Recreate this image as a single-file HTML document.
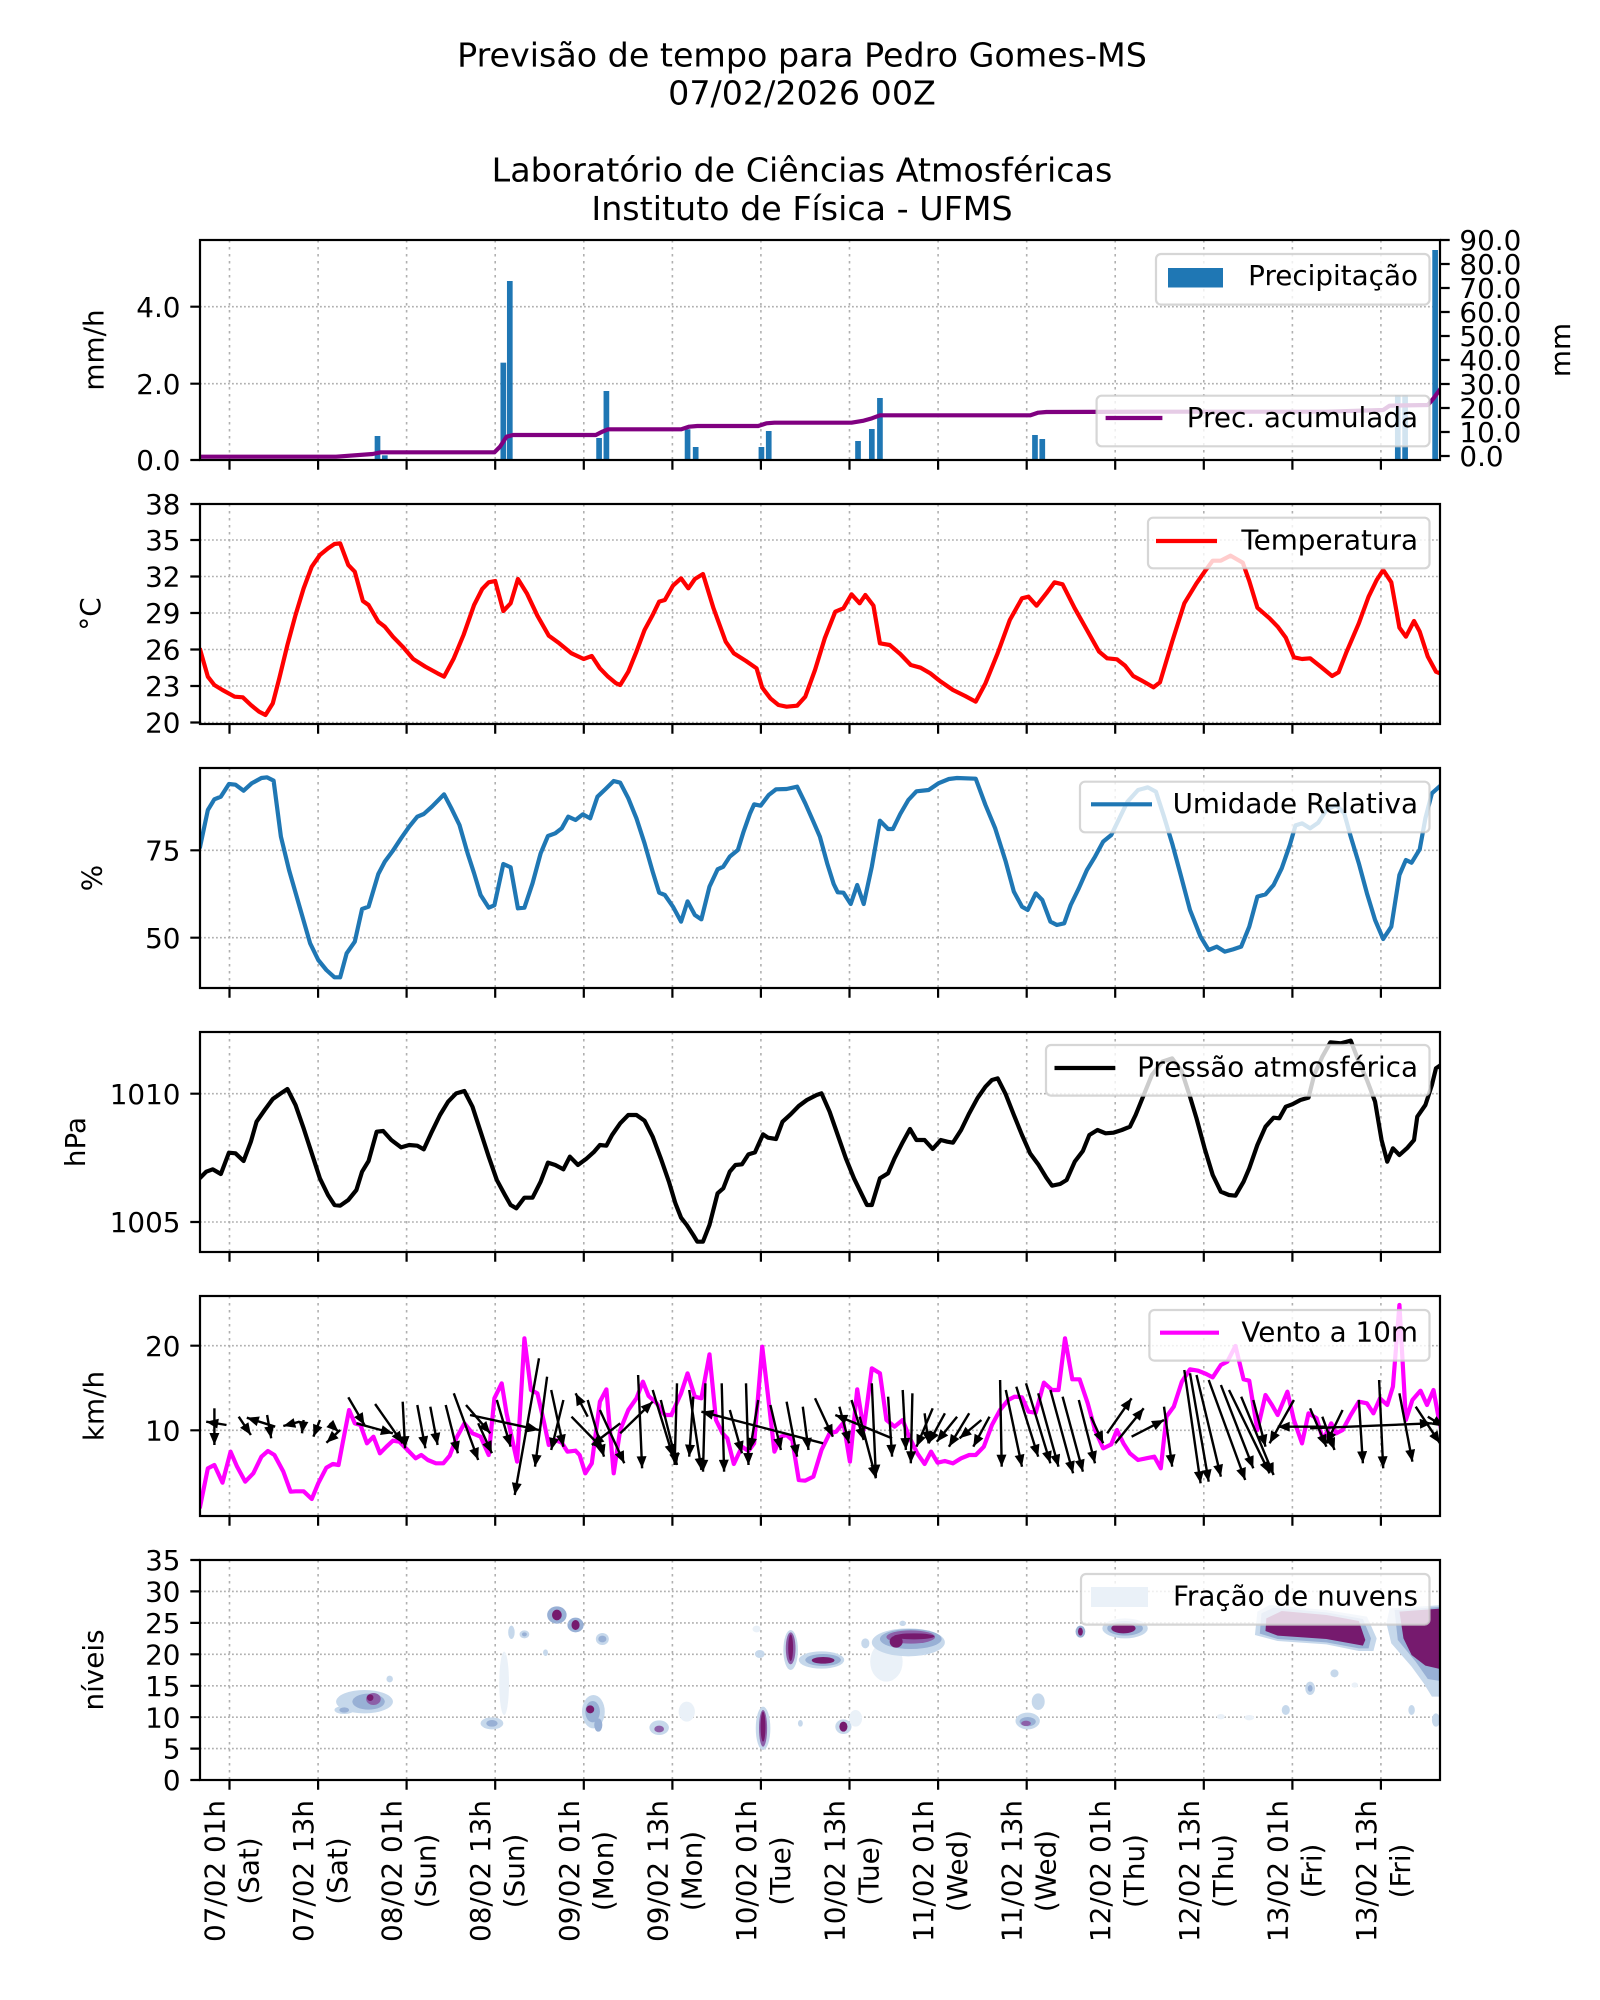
<!DOCTYPE html>
<html><head><meta charset="utf-8"><style>
html,body{margin:0;padding:0;background:#fff}
svg{display:block}
text{font-family:"DejaVu Sans","Liberation Sans",sans-serif;fill:#000}
.t{font-size:27.8px}
.ti{font-size:33.3px}
.gv{stroke:#b0b0b0;stroke-width:1.6;stroke-dasharray:2.5 4.5;fill:none}
.gh{stroke:#b0b0b0;stroke-width:1.6;stroke-dasharray:1.8 2.2;fill:none}
.sp{fill:none;stroke:#000;stroke-width:2.2}
.tk{stroke:#000;stroke-width:2.2;fill:none}
.ln{fill:none;stroke-width:4.2;stroke-linejoin:round;vector-effect:non-scaling-stroke}
.lg{fill:#fff;fill-opacity:0.8;stroke:#cccccc;stroke-opacity:0.8;stroke-width:2.2}
.q line{stroke:#000;stroke-width:2.4;marker-end:url(#ah)}
.c0{fill:#eaf1f8}.c1{fill:#c6d8eb}.c2{fill:#98b0d5}.c3{fill:#8c5fa8}.c4{fill:#761a6e}
</style></head><body>
<svg width="1600" height="2000" viewBox="0 0 1600 2000" xmlns="http://www.w3.org/2000/svg">
<defs>
<marker id="ah" markerUnits="userSpaceOnUse" markerWidth="13" markerHeight="10" refX="12" refY="5" orient="auto" viewBox="0 0 12 10"><path d="M0,0 L12,5 L0,10 z" fill="#000"/></marker>
<path id="vg" d="M229.5,0V220M318.1,0V220M406.6,0V220M495.2,0V220M583.8,0V220M672.4,0V220M760.9,0V220M849.5,0V220M938.1,0V220M1026.7,0V220M1115.2,0V220M1203.8,0V220M1292.4,0V220M1380.9,0V220"/>
<path id="xt" d="M229.5,0v9.7M318.1,0v9.7M406.6,0v9.7M495.2,0v9.7M583.8,0v9.7M672.4,0v9.7M760.9,0v9.7M849.5,0v9.7M938.1,0v9.7M1026.7,0v9.7M1115.2,0v9.7M1203.8,0v9.7M1292.4,0v9.7M1380.9,0v9.7"/>
<clipPath id="c1"><rect x="200" y="240" width="1240" height="220"/></clipPath>
<clipPath id="c2"><rect x="200" y="504" width="1240" height="220"/></clipPath>
<clipPath id="c3"><rect x="200" y="768" width="1240" height="220"/></clipPath>
<clipPath id="c4"><rect x="200" y="1032" width="1240" height="220"/></clipPath>
<clipPath id="c5"><rect x="200" y="1296" width="1240" height="220"/></clipPath>
<clipPath id="c6"><rect x="200" y="1560" width="1240" height="220"/></clipPath>
</defs>
<rect width="1600" height="2000" fill="#fff"/>

<!-- Titles -->
<text class="ti" x="802" y="66.7" text-anchor="middle">Previsão de tempo para Pedro Gomes-MS</text>
<text class="ti" x="802" y="104.3" text-anchor="middle">07/02/2026 00Z</text>
<text class="ti" x="802" y="181.7" text-anchor="middle">Laboratório de Ciências Atmosféricas</text>
<text class="ti" x="802" y="220" text-anchor="middle">Instituto de Física - UFMS</text>

<!-- ============ PANEL 1 ============ -->
<use href="#vg" y="240" class="gv"/>
<path class="gh" d="M200,383.7H1440M200,306.7H1440"/>
<g clip-path="url(#c1)">
<g transform="translate(190,230) scale(0.81169,0.33333)" fill="#1f77b4">
<rect x="227.5" y="618" width="7" height="72"/>
<rect x="236.5" y="676" width="7" height="14"/>
<rect x="382.5" y="398" width="7" height="292"/>
<rect x="390.5" y="153" width="7" height="537"/>
<rect x="500.5" y="624" width="7" height="66"/>
<rect x="509.5" y="483" width="7" height="207"/>
<rect x="609.5" y="598" width="7" height="92"/>
<rect x="619.5" y="651" width="7" height="39"/>
<rect x="700.5" y="651" width="7" height="39"/>
<rect x="709.5" y="603" width="7" height="87"/>
<rect x="819.5" y="633" width="7" height="57"/>
<rect x="836.5" y="597" width="7" height="93"/>
<rect x="846.5" y="504" width="7" height="186"/>
<rect x="1037.5" y="615" width="7" height="75"/>
<rect x="1046.5" y="627" width="7" height="63"/>
<rect x="1484.5" y="497" width="7" height="193"/>
<rect x="1493.5" y="497" width="7" height="193"/>
<rect x="1530.5" y="60" width="7" height="630"/>
<polyline class="ln" stroke="#800080" points="12,680 180,680 225,672 235,667 375,667 382,650 390,620 398,615 500,615 508,605 515,598 605,598 615,590 625,588 700,588 710,580 720,578 815,578 830,572 840,565 850,556 1035,556 1045,548 1055,546 1200,545 1400,545 1470,540 1478,527 1525,525 1532,505 1545,462"/>
</g></g>
<rect class="sp" x="200" y="240" width="1240" height="220"/>
<path class="tk" d="M190.3,460H200M190.3,383.7H200M190.3,306.7H200"/>
<use href="#xt" y="460" class="tk"/>
<text class="t" x="180.5" y="470" text-anchor="end">0.0</text>
<text class="t" x="180.5" y="393.8" text-anchor="end">2.0</text>
<text class="t" x="180.5" y="316.8" text-anchor="end">4.0</text>
<path class="tk" d="M1440,456h9.7M1440,432h9.7M1440,408h9.7M1440,384h9.7M1440,360h9.7M1440,336h9.7M1440,312h9.7M1440,288h9.7M1440,264h9.7M1440,240h9.7"/>
<text class="t" x="1459.4" y="466">0.0</text>
<text class="t" x="1459.4" y="442">10.0</text>
<text class="t" x="1459.4" y="418">20.0</text>
<text class="t" x="1459.4" y="394">30.0</text>
<text class="t" x="1459.4" y="370">40.0</text>
<text class="t" x="1459.4" y="346">50.0</text>
<text class="t" x="1459.4" y="322">60.0</text>
<text class="t" x="1459.4" y="298">70.0</text>
<text class="t" x="1459.4" y="274">80.0</text>
<text class="t" x="1459.4" y="250">90.0</text>
<text class="t" transform="translate(103.3,350) rotate(-90)" text-anchor="middle">mm/h</text>
<text class="t" transform="translate(1570,350) rotate(-90)" text-anchor="middle">mm</text>
<rect class="lg" x="1156" y="254" width="273.5" height="50.6" rx="5"/>
<rect x="1168" y="268" width="55" height="19.5" fill="#1f77b4"/>
<text class="t" x="1418" y="285" text-anchor="end">Precipitação</text>
<rect class="lg" x="1096.6" y="395.7" width="332.9" height="50.6" rx="5"/>
<line x1="1105.6" y1="418" x2="1162.4" y2="418" stroke="#800080" stroke-width="4.2"/>
<text class="t" x="1418" y="427" text-anchor="end">Prec. acumulada</text>

<!-- ============ PANEL 2 ============ -->
<use href="#vg" y="504" class="gv"/>
<path class="gh" d="M200,540H1440M200,576.5H1440M200,613H1440M200,649.5H1440M200,686H1440M200,722.5H1440"/>
<g clip-path="url(#c2)"><g transform="translate(190,495) scale(0.81169,0.33333)">
<polyline class="ln" stroke="#ff0000" points="12,460 22,545 30,570 40,585 55,605 65,607 75,630 85,650 93,660 102,625 110,550 120,450 130,360 140,280 150,215 160,180 170,160 178,147 185,145 195,210 203,230 213,318 220,330 232,380 240,395 250,425 262,455 275,492 290,515 305,535 313,545 325,490 337,420 350,330 360,282 368,262 376,258 386,348 395,325 404,252 415,295 428,362 442,422 455,445 470,475 485,492 495,483 505,520 515,545 525,565 530,570 540,530 550,470 560,405 570,360 578,320 585,315 595,272 605,250 614,280 622,252 632,237 645,340 660,440 670,475 685,498 698,520 705,578 715,610 725,630 735,635 748,632 758,605 770,525 782,430 795,350 805,340 815,298 825,325 832,300 842,332 850,445 862,450 875,477 888,510 900,518 912,535 925,560 940,585 955,603 968,620 980,565 995,475 1010,375 1025,310 1033,305 1043,332 1055,295 1065,262 1075,268 1090,340 1105,405 1120,470 1130,490 1142,493 1152,512 1162,543 1175,560 1187,577 1195,562 1210,440 1225,325 1240,265 1250,230 1260,197 1270,197 1282,182 1297,203 1305,258 1315,338 1330,370 1340,395 1350,428 1360,487 1370,492 1380,490 1393,515 1407,543 1415,532 1425,470 1440,385 1452,305 1462,255 1470,225 1480,262 1490,398 1498,425 1508,378 1515,410 1525,485 1535,530 1545,540"/>
</g></g>
<rect class="sp" x="200" y="504" width="1240" height="220"/>
<path class="tk" d="M190.3,504H200M190.3,540H200M190.3,576.5H200M190.3,613H200M190.3,649.5H200M190.3,686H200M190.3,722.5H200"/>
<use href="#xt" y="724" class="tk"/>
<text class="t" x="180.5" y="514" text-anchor="end">38</text>
<text class="t" x="180.5" y="550" text-anchor="end">35</text>
<text class="t" x="180.5" y="586.5" text-anchor="end">32</text>
<text class="t" x="180.5" y="623" text-anchor="end">29</text>
<text class="t" x="180.5" y="659.5" text-anchor="end">26</text>
<text class="t" x="180.5" y="696" text-anchor="end">23</text>
<text class="t" x="180.5" y="732.5" text-anchor="end">20</text>
<text class="t" transform="translate(100,614) rotate(-90)" text-anchor="middle">°C</text>
<rect class="lg" x="1148" y="517.7" width="281.5" height="50.6" rx="5"/>
<line x1="1156" y1="541" x2="1217" y2="541" stroke="#ff0000" stroke-width="4.2"/>
<text class="t" x="1418" y="549.5" text-anchor="end">Temperatura</text>

<!-- ============ PANEL 3 ============ -->
<use href="#vg" y="768" class="gv"/>
<path class="gh" d="M200,850.3H1440M200,937.7H1440"/>
<g clip-path="url(#c3)"><g transform="translate(190,760) scale(0.81169,0.33333)">
<polyline class="ln" stroke="#1f77b4" points="12,265 22,150 30,118 38,110 48,72 56,74 66,92 76,70 88,54 95,52 103,62 112,230 122,330 135,440 148,550 158,600 168,630 178,652 185,652 193,580 203,545 212,447 220,440 232,342 240,305 250,272 260,235 270,200 280,170 288,162 298,140 313,103 322,145 332,195 342,280 350,340 358,405 368,443 375,436 386,312 395,322 404,445 412,443 422,370 432,280 441,228 450,220 458,205 466,170 475,180 484,163 493,175 502,110 512,87 522,63 530,68 540,115 550,175 560,250 570,335 578,398 585,405 595,440 605,485 613,424 622,465 630,478 640,380 650,328 657,320 665,290 675,270 682,215 690,160 695,133 703,137 713,105 722,88 735,87 748,80 758,130 768,185 776,230 785,310 793,372 798,397 805,398 814,432 822,375 830,432 840,320 850,182 860,207 866,207 875,162 885,120 895,94 910,90 922,70 935,57 945,54 968,56 980,135 992,205 1005,305 1015,395 1025,440 1032,450 1042,400 1050,420 1060,485 1068,495 1077,490 1085,435 1095,385 1105,330 1115,290 1125,245 1135,225 1145,175 1155,125 1168,90 1180,82 1190,95 1200,170 1210,250 1220,340 1232,450 1245,530 1255,570 1265,560 1275,575 1285,568 1295,560 1305,500 1315,410 1325,403 1335,375 1345,325 1355,255 1362,196 1370,190 1380,205 1390,188 1400,150 1412,135 1422,160 1430,230 1440,310 1450,400 1460,480 1470,537 1480,500 1490,345 1498,300 1505,308 1515,268 1522,175 1530,100 1540,78 1545,75"/>
</g></g>
<rect class="sp" x="200" y="768" width="1240" height="220"/>
<path class="tk" d="M190.3,850.3H200M190.3,937.7H200"/>
<use href="#xt" y="988" class="tk"/>
<text class="t" x="180.5" y="860.4" text-anchor="end">75</text>
<text class="t" x="180.5" y="947.8" text-anchor="end">50</text>
<text class="t" transform="translate(101.7,878) rotate(-90)" text-anchor="middle">%</text>
<rect class="lg" x="1080" y="781.7" width="349.5" height="50.6" rx="5"/>
<line x1="1091" y1="804.3" x2="1152" y2="804.3" stroke="#1f77b4" stroke-width="4.2"/>
<text class="t" x="1418" y="813.2" text-anchor="end">Umidade Relativa</text>

<!-- ============ PANEL 4 ============ -->
<use href="#vg" y="1032" class="gv"/>
<path class="gh" d="M200,1093.7H1440M200,1222H1440"/>
<g clip-path="url(#c4)"><g transform="translate(190,1025) scale(0.81169,0.33333)">
<polyline class="ln" stroke="#000" points="12,460 20,440 28,433 38,447 48,383 56,385 66,408 75,350 82,290 92,255 102,222 112,205 120,192 130,240 140,310 150,385 160,460 170,510 178,540 185,542 195,525 205,495 212,440 220,408 230,320 238,318 248,345 260,367 270,360 280,362 288,373 298,320 308,270 318,230 328,205 338,198 348,245 358,320 368,395 378,465 388,510 395,540 402,550 412,518 422,518 432,470 441,413 450,420 460,433 468,395 478,420 488,402 498,380 505,360 513,362 520,330 530,295 540,270 550,270 560,287 570,335 580,400 590,470 598,535 605,578 612,600 620,630 625,650 632,650 640,600 650,505 657,490 665,440 672,420 680,418 688,388 696,382 706,328 712,338 722,342 730,290 740,268 750,243 760,225 772,210 778,205 788,260 798,330 808,400 818,460 826,500 834,540 840,540 850,460 860,445 868,400 878,352 887,312 895,345 905,345 915,372 925,345 933,350 940,353 950,315 960,265 970,220 980,185 988,165 995,160 1005,208 1015,270 1025,330 1035,385 1045,418 1055,458 1062,482 1072,477 1080,465 1090,410 1100,378 1108,330 1118,315 1128,325 1138,323 1148,315 1158,305 1165,270 1175,210 1185,150 1198,110 1210,100 1222,140 1232,215 1240,280 1250,370 1260,450 1270,500 1280,510 1288,512 1298,470 1305,430 1315,360 1325,305 1335,278 1342,280 1350,245 1358,238 1368,225 1378,218 1385,150 1395,95 1405,52 1418,55 1430,47 1440,110 1450,165 1460,230 1468,345 1475,410 1482,370 1490,390 1500,368 1508,345 1512,275 1522,240 1530,180 1535,130 1545,113"/>
</g></g>
<rect class="sp" x="200" y="1032" width="1240" height="220"/>
<path class="tk" d="M190.3,1093.7H200M190.3,1222H200"/>
<use href="#xt" y="1252" class="tk"/>
<text class="t" x="180.5" y="1103.8" text-anchor="end">1010</text>
<text class="t" x="180.5" y="1232.1" text-anchor="end">1005</text>
<text class="t" transform="translate(85,1142) rotate(-90)" text-anchor="middle">hPa</text>
<rect class="lg" x="1046" y="1045" width="383.5" height="50.6" rx="5"/>
<line x1="1054.5" y1="1068" x2="1115.3" y2="1068" stroke="#000" stroke-width="4.2"/>
<text class="t" x="1418" y="1076.5" text-anchor="end">Pressão atmosférica</text>

<!-- ============ PANEL 5 ============ -->
<use href="#vg" y="1296" class="gv"/>
<path class="gh" d="M200,1345.7H1440M200,1430.3H1440"/>
<g clip-path="url(#c5)">
<g transform="translate(190,1290) scale(0.81169,0.33333)">
<polyline class="ln" stroke="#ff00ff" points="12,655 22,535 30,525 40,578 50,485 58,530 68,575 78,550 88,500 96,483 104,495 115,545 124,605 130,604 140,604 150,627 158,580 168,533 176,522 183,525 188,460 196,360 203,400 210,405 218,460 226,440 234,490 242,470 250,452 258,455 268,480 278,505 285,495 293,510 303,520 312,520 320,497 328,445 338,400 348,430 358,440 368,495 375,325 384,280 390,370 398,460 403,515 412,145 420,300 428,310 436,395 442,465 450,450 458,458 465,485 475,482 480,495 487,550 495,520 505,335 513,298 522,550 530,420 540,360 550,325 558,275 565,318 575,340 585,375 593,375 605,310 613,250 622,320 630,325 640,193 648,390 656,430 662,445 670,522 680,470 688,483 695,460 705,170 712,315 720,485 728,440 735,435 742,450 750,570 758,572 768,560 778,480 788,430 796,425 805,398 813,515 822,298 830,420 840,235 850,250 858,390 868,410 878,390 886,440 896,490 905,522 913,485 921,518 930,513 940,520 950,505 960,495 968,495 978,470 988,405 998,360 1008,330 1016,320 1025,322 1033,365 1042,368 1052,278 1062,300 1070,300 1078,145 1087,268 1096,268 1106,340 1115,420 1125,475 1135,463 1142,420 1150,460 1158,490 1168,510 1178,505 1188,500 1196,535 1203,380 1212,350 1222,275 1232,238 1242,242 1252,252 1260,262 1270,225 1278,215 1288,168 1298,268 1305,272 1315,420 1325,315 1333,345 1340,375 1352,305 1360,390 1370,460 1378,370 1388,385 1396,450 1406,400 1412,430 1420,420 1430,375 1440,335 1450,340 1458,370 1466,325 1475,345 1482,290 1490,45 1498,390 1506,330 1516,302 1524,345 1532,300 1538,380 1544,445"/>
</g>
<g class="q">
<line x1="214.4" y1="1408.3" x2="214.4" y2="1445"/>
<line x1="226.5" y1="1425" x2="206.2" y2="1421.7"/>
<line x1="238.7" y1="1416.7" x2="250.9" y2="1435"/>
<line x1="275.2" y1="1426.7" x2="246.8" y2="1417.7"/>
<line x1="299.6" y1="1421.7" x2="283.3" y2="1426"/>
<line x1="267.1" y1="1415" x2="271.2" y2="1438.3"/>
<line x1="303.6" y1="1420" x2="302" y2="1433.3"/>
<line x1="319.9" y1="1420" x2="313.4" y2="1436.7"/>
<line x1="329.6" y1="1423.3" x2="338.5" y2="1431.7"/>
<line x1="340.2" y1="1430" x2="326.4" y2="1442.7"/>
<line x1="348.3" y1="1397.3" x2="364.5" y2="1425"/>
<line x1="356.4" y1="1423.3" x2="392.9" y2="1433.3"/>
<line x1="375.1" y1="1404" x2="402.7" y2="1443.3"/>
<line x1="402.7" y1="1401.7" x2="405.1" y2="1448.3"/>
<line x1="417.3" y1="1405" x2="425.4" y2="1448.3"/>
<line x1="430.3" y1="1406.7" x2="437.6" y2="1445"/>
<line x1="445.7" y1="1405" x2="457.9" y2="1453.3"/>
<line x1="453.8" y1="1393.3" x2="478.2" y2="1460"/>
<line x1="466" y1="1405" x2="490.3" y2="1433.3"/>
<line x1="470" y1="1415" x2="539" y2="1430"/>
<line x1="478.2" y1="1423.3" x2="491.9" y2="1453.3"/>
<line x1="496.8" y1="1400" x2="510.6" y2="1446.7"/>
<line x1="539" y1="1358.3" x2="514.7" y2="1495"/>
<line x1="547.1" y1="1376.7" x2="535" y2="1466.7"/>
<line x1="551.2" y1="1390" x2="563.4" y2="1446.7"/>
<line x1="563.4" y1="1400" x2="551.2" y2="1450"/>
<line x1="587.7" y1="1416.7" x2="575.6" y2="1393.3"/>
<line x1="571.5" y1="1416.7" x2="604" y2="1450"/>
<line x1="587.7" y1="1400" x2="604" y2="1456.7"/>
<line x1="599.9" y1="1410" x2="624.3" y2="1463.3"/>
<line x1="620.2" y1="1423.3" x2="591.8" y2="1445"/>
<line x1="620.2" y1="1433.3" x2="652.7" y2="1401.7"/>
<line x1="638.1" y1="1375" x2="642.1" y2="1468.3"/>
<line x1="652.7" y1="1390" x2="673" y2="1456.7"/>
<line x1="660.8" y1="1400" x2="677" y2="1465"/>
<line x1="677" y1="1383.3" x2="674.6" y2="1465"/>
<line x1="689.2" y1="1390" x2="701.4" y2="1470"/>
<line x1="693.3" y1="1396.7" x2="689.2" y2="1456.7"/>
<line x1="705.4" y1="1383.3" x2="703" y2="1471.7"/>
<line x1="721.7" y1="1383.3" x2="724.1" y2="1471.7"/>
<line x1="729.8" y1="1410" x2="742" y2="1453.3"/>
<line x1="746" y1="1383.3" x2="748.5" y2="1465"/>
<line x1="758.2" y1="1400" x2="750.1" y2="1450"/>
<line x1="823.1" y1="1443.3" x2="701.4" y2="1411.7"/>
<line x1="770.4" y1="1405" x2="780.9" y2="1450"/>
<line x1="786.6" y1="1401.7" x2="797.1" y2="1456.7"/>
<line x1="802.8" y1="1406.7" x2="808.5" y2="1450"/>
<line x1="815" y1="1398.3" x2="832.9" y2="1436.7"/>
<line x1="892.1" y1="1438.3" x2="835.3" y2="1415"/>
<line x1="839.4" y1="1406.7" x2="849.1" y2="1443.3"/>
<line x1="851.5" y1="1400" x2="863.7" y2="1440"/>
<line x1="859.7" y1="1416.7" x2="875.9" y2="1478.3"/>
<line x1="871.8" y1="1383.3" x2="875.9" y2="1476.7"/>
<line x1="888.1" y1="1396.7" x2="892.1" y2="1456.7"/>
<line x1="902.7" y1="1390" x2="905.9" y2="1450"/>
<line x1="912.4" y1="1393.3" x2="910.8" y2="1463.3"/>
<line x1="924.6" y1="1413.3" x2="928.6" y2="1443.3"/>
<line x1="932.7" y1="1408.3" x2="916.5" y2="1446.7"/>
<line x1="944.9" y1="1413.3" x2="928.6" y2="1443.3"/>
<line x1="957.1" y1="1416.7" x2="936.8" y2="1441.7"/>
<line x1="969.2" y1="1413.3" x2="948.9" y2="1446.7"/>
<line x1="981.4" y1="1420" x2="959.5" y2="1438.3"/>
<line x1="989.5" y1="1416.7" x2="973.3" y2="1446.7"/>
<line x1="1000.1" y1="1380" x2="1001.7" y2="1466.7"/>
<line x1="1005.8" y1="1390" x2="1022" y2="1466.7"/>
<line x1="1016.3" y1="1386.7" x2="1038.2" y2="1456.7"/>
<line x1="1026" y1="1383.3" x2="1050.4" y2="1463.3"/>
<line x1="1038.2" y1="1393.3" x2="1058.5" y2="1466.7"/>
<line x1="1050.4" y1="1390" x2="1073.1" y2="1473.3"/>
<line x1="1062.6" y1="1396.7" x2="1082.9" y2="1471.7"/>
<line x1="1078.8" y1="1400" x2="1095" y2="1463.3"/>
<line x1="1091" y1="1416.7" x2="1103.2" y2="1443.3"/>
<line x1="1107.2" y1="1433.3" x2="1131.6" y2="1398.3"/>
<line x1="1115.3" y1="1443.3" x2="1143.7" y2="1408.3"/>
<line x1="1131.6" y1="1436.7" x2="1164" y2="1420"/>
<line x1="1164" y1="1406.7" x2="1172.2" y2="1466.7"/>
<line x1="1184.3" y1="1370" x2="1200.6" y2="1483.3"/>
<line x1="1190" y1="1373.3" x2="1208.7" y2="1481.7"/>
<line x1="1196.5" y1="1375" x2="1220.9" y2="1476.7"/>
<line x1="1208.7" y1="1380" x2="1245.2" y2="1480"/>
<line x1="1220.9" y1="1385" x2="1253.3" y2="1468.3"/>
<line x1="1229" y1="1390" x2="1269.6" y2="1473.3"/>
<line x1="1241.2" y1="1396.7" x2="1273.6" y2="1475"/>
<line x1="1253.3" y1="1400" x2="1265.5" y2="1446.7"/>
<line x1="1326.4" y1="1426.7" x2="1277.7" y2="1426.7"/>
<line x1="1293.9" y1="1400" x2="1269.6" y2="1443.3"/>
<line x1="1310.1" y1="1408.3" x2="1326.4" y2="1446.7"/>
<line x1="1322.3" y1="1416.7" x2="1334.5" y2="1450"/>
<line x1="1342.6" y1="1410" x2="1326.4" y2="1443.3"/>
<line x1="1358.8" y1="1400" x2="1362.9" y2="1463.3"/>
<line x1="1379.1" y1="1380" x2="1383.2" y2="1468.3"/>
<line x1="1399.4" y1="1393.3" x2="1412.4" y2="1461.7"/>
<line x1="1310.1" y1="1428.3" x2="1431.9" y2="1423.3"/>
<line x1="1415.7" y1="1406.7" x2="1440" y2="1443.3"/>
<line x1="1427.8" y1="1416.7" x2="1444" y2="1426.7"/>
</g>
</g>
<rect class="sp" x="200" y="1296" width="1240" height="220"/>
<path class="tk" d="M190.3,1345.7H200M190.3,1430.3H200"/>
<use href="#xt" y="1516" class="tk"/>
<text class="t" x="180.5" y="1355.8" text-anchor="end">20</text>
<text class="t" x="180.5" y="1440.4" text-anchor="end">10</text>
<text class="t" transform="translate(103.3,1406) rotate(-90)" text-anchor="middle">km/h</text>
<rect class="lg" x="1149.4" y="1310" width="280.1" height="50.6" rx="5"/>
<line x1="1160" y1="1332.7" x2="1219" y2="1332.7" stroke="#ff00ff" stroke-width="4.2"/>
<text class="t" x="1418" y="1341.5" text-anchor="end">Vento a 10m</text>

<!-- ============ PANEL 6 ============ -->
<use href="#vg" y="1560" class="gv"/>
<path class="gh" d="M200,1748.6H1440M200,1717.2H1440M200,1685.8H1440M200,1654.3H1440M200,1622.9H1440M200,1591.4H1440"/>
<g clip-path="url(#c6)"><g transform="translate(190,1555) scale(0.81169,0.33333)">
<ellipse class="c1" cx="215" cy="440" rx="35" ry="35"/><ellipse class="c2" cx="220" cy="440" rx="20" ry="24"/><ellipse class="c3" cx="226" cy="432" rx="9" ry="18"/><ellipse class="c4" cx="222" cy="428" rx="4" ry="10"/>
<ellipse class="c1" cx="190" cy="465" rx="12" ry="12"/><ellipse class="c2" cx="190" cy="465" rx="6" ry="8"/>
<ellipse class="c1" cx="246" cy="372" rx="4" ry="10"/>
<ellipse class="c1" cx="372" cy="505" rx="14" ry="18"/><ellipse class="c2" cx="372" cy="505" rx="7" ry="10"/>
<ellipse class="c0" cx="387" cy="385" rx="6" ry="95"/>
<ellipse class="c1" cx="396" cy="232" rx="4" ry="20"/>
<ellipse class="c1" cx="412" cy="238" rx="6" ry="12"/><ellipse class="c2" cx="412" cy="238" rx="3" ry="6"/>
<ellipse class="c1" cx="438" cy="293" rx="3" ry="10"/>
<ellipse class="c2" cx="452" cy="180" rx="12" ry="26"/><ellipse class="c4" cx="452" cy="180" rx="6" ry="16"/>
<ellipse class="c2" cx="475" cy="210" rx="10" ry="22"/><ellipse class="c4" cx="475" cy="210" rx="5" ry="15"/>
<ellipse class="c1" cx="508" cy="252" rx="8" ry="18"/><ellipse class="c2" cx="508" cy="252" rx="5" ry="10"/>
<ellipse class="c1" cx="497" cy="470" rx="14" ry="50"/><ellipse class="c2" cx="496" cy="470" rx="9" ry="32"/><ellipse class="c4" cx="493" cy="463" rx="5" ry="12"/><ellipse class="c2" cx="503" cy="510" rx="5" ry="20"/>
<ellipse class="c1" cx="578" cy="518" rx="12" ry="22"/><ellipse class="c3" cx="578" cy="522" rx="6" ry="10"/>
<ellipse class="c0" cx="612" cy="470" rx="10" ry="30"/>
<ellipse class="c0" cx="698" cy="222" rx="5" ry="10"/>
<ellipse class="c1" cx="702" cy="297" rx="6" ry="12"/>
<ellipse class="c1" cx="706" cy="520" rx="9" ry="65"/><ellipse class="c3" cx="706" cy="520" rx="5" ry="55"/><ellipse class="c4" cx="706" cy="515" rx="3" ry="45"/>
<ellipse class="c1" cx="740" cy="285" rx="9" ry="60"/><ellipse class="c3" cx="740" cy="280" rx="6" ry="48"/><ellipse class="c4" cx="740" cy="278" rx="3" ry="40"/>
<ellipse class="c1" cx="778" cy="315" rx="28" ry="26"/><ellipse class="c2" cx="780" cy="315" rx="22" ry="18"/><ellipse class="c4" cx="780" cy="316" rx="14" ry="10"/>
<ellipse class="c1" cx="752" cy="505" rx="3" ry="10"/>
<ellipse class="c1" cx="805" cy="515" rx="10" ry="22"/><ellipse class="c4" cx="805" cy="515" rx="5" ry="15"/>
<ellipse class="c0" cx="820" cy="490" rx="8" ry="25"/>
<ellipse class="c1" cx="832" cy="265" rx="5" ry="15"/>
<ellipse class="c0" cx="858" cy="320" rx="20" ry="60"/>
<ellipse class="c1" cx="885" cy="262" rx="45" ry="42"/>
<ellipse class="c2" cx="888" cy="252" rx="38" ry="30"/>
<ellipse class="c3" cx="888" cy="246" rx="30" ry="20"/>
<ellipse class="c4" cx="892" cy="244" rx="25" ry="9"/><ellipse class="c4" cx="870" cy="260" rx="8" ry="18"/>
<ellipse class="c1" cx="878" cy="205" rx="4" ry="8"/>
<ellipse class="c1" cx="1032" cy="498" rx="15" ry="25"/><ellipse class="c2" cx="1032" cy="500" rx="10" ry="14"/><ellipse class="c3" cx="1030" cy="505" rx="6" ry="8"/>
<ellipse class="c1" cx="1045" cy="440" rx="8" ry="25"/>
<ellipse class="c2" cx="1097" cy="230" rx="6" ry="18"/><ellipse class="c4" cx="1097" cy="230" rx="3" ry="12"/>
<ellipse class="c1" cx="1152" cy="220" rx="28" ry="30"/><ellipse class="c2" cx="1152" cy="220" rx="22" ry="22"/><ellipse class="c4" cx="1150" cy="220" rx="15" ry="15"/>
<path class="c1" d="M1315,170 L1330,150 L1400,165 L1450,185 L1462,250 L1458,288 L1440,288 L1400,268 L1340,258 L1312,240 Z"/>
<path class="c2" d="M1320,175 L1335,158 L1400,172 L1445,192 L1455,250 L1452,280 L1440,280 L1400,262 L1340,252 L1318,236 Z"/>
<path class="c4" d="M1326,190 L1345,168 L1400,180 L1440,198 L1448,255 L1445,272 L1400,252 L1340,242 L1325,228 Z"/>
<path class="c1" d="M1478,160 L1545,150 L1545,425 L1530,425 L1520,385 L1505,335 L1480,265 L1474,205 Z"/>
<path class="c2" d="M1484,165 L1545,155 L1545,380 L1525,372 L1510,320 L1488,255 Z"/>
<path class="c4" d="M1490,170 L1545,160 L1545,345 L1522,332 L1505,300 L1495,250 Z"/>
<ellipse class="c1" cx="1380" cy="400" rx="6" ry="20"/><ellipse class="c2" cx="1380" cy="400" rx="3" ry="10"/>
<ellipse class="c1" cx="1410" cy="355" rx="5" ry="12"/>
<ellipse class="c1" cx="1350" cy="465" rx="5" ry="15"/>
<ellipse class="c0" cx="1305" cy="488" rx="6" ry="8"/>
<ellipse class="c0" cx="1270" cy="485" rx="5" ry="8"/>
<ellipse class="c1" cx="1505" cy="465" rx="4" ry="15"/>
<ellipse class="c1" cx="1535" cy="495" rx="5" ry="20"/>
<ellipse class="c0" cx="1435" cy="390" rx="4" ry="8"/>
</g></g>
<rect class="sp" x="200" y="1560" width="1240" height="220"/>
<path class="tk" d="M190.3,1780H200M190.3,1748.6H200M190.3,1717.2H200M190.3,1685.8H200M190.3,1654.3H200M190.3,1622.9H200M190.3,1591.4H200M190.3,1560H200"/>
<use href="#xt" y="1780" class="tk"/>
<text class="t" x="180.5" y="1790" text-anchor="end">0</text>
<text class="t" x="180.5" y="1758.7" text-anchor="end">5</text>
<text class="t" x="180.5" y="1727.3" text-anchor="end">10</text>
<text class="t" x="180.5" y="1695.9" text-anchor="end">15</text>
<text class="t" x="180.5" y="1664.4" text-anchor="end">20</text>
<text class="t" x="180.5" y="1633" text-anchor="end">25</text>
<text class="t" x="180.5" y="1601.5" text-anchor="end">30</text>
<text class="t" x="180.5" y="1570.1" text-anchor="end">35</text>
<text class="t" transform="translate(103,1670) rotate(-90)" text-anchor="middle">níveis</text>
<rect class="lg" x="1081" y="1574" width="348.5" height="50.6" rx="5"/>
<rect x="1091" y="1587" width="57" height="20" fill="#eaf1f8"/>
<text class="t" x="1418" y="1605.5" text-anchor="end">Fração de nuvens</text>

<!-- X tick labels -->
<g class="t">
<text class="t" transform="translate(224.5,1871) rotate(-90)" text-anchor="middle">07/02 01h</text><text class="t" transform="translate(258.5,1871) rotate(-90)" text-anchor="middle">(Sat)</text>
<text class="t" transform="translate(313.1,1871) rotate(-90)" text-anchor="middle">07/02 13h</text><text class="t" transform="translate(347.1,1871) rotate(-90)" text-anchor="middle">(Sat)</text>
<text class="t" transform="translate(401.6,1871) rotate(-90)" text-anchor="middle">08/02 01h</text><text class="t" transform="translate(435.6,1871) rotate(-90)" text-anchor="middle">(Sun)</text>
<text class="t" transform="translate(490.2,1871) rotate(-90)" text-anchor="middle">08/02 13h</text><text class="t" transform="translate(524.2,1871) rotate(-90)" text-anchor="middle">(Sun)</text>
<text class="t" transform="translate(578.8,1871) rotate(-90)" text-anchor="middle">09/02 01h</text><text class="t" transform="translate(612.8,1871) rotate(-90)" text-anchor="middle">(Mon)</text>
<text class="t" transform="translate(667.4,1871) rotate(-90)" text-anchor="middle">09/02 13h</text><text class="t" transform="translate(701.4,1871) rotate(-90)" text-anchor="middle">(Mon)</text>
<text class="t" transform="translate(755.9,1871) rotate(-90)" text-anchor="middle">10/02 01h</text><text class="t" transform="translate(789.9,1871) rotate(-90)" text-anchor="middle">(Tue)</text>
<text class="t" transform="translate(844.5,1871) rotate(-90)" text-anchor="middle">10/02 13h</text><text class="t" transform="translate(878.5,1871) rotate(-90)" text-anchor="middle">(Tue)</text>
<text class="t" transform="translate(933.1,1871) rotate(-90)" text-anchor="middle">11/02 01h</text><text class="t" transform="translate(967.1,1871) rotate(-90)" text-anchor="middle">(Wed)</text>
<text class="t" transform="translate(1021.7,1871) rotate(-90)" text-anchor="middle">11/02 13h</text><text class="t" transform="translate(1055.7,1871) rotate(-90)" text-anchor="middle">(Wed)</text>
<text class="t" transform="translate(1110.2,1871) rotate(-90)" text-anchor="middle">12/02 01h</text><text class="t" transform="translate(1144.2,1871) rotate(-90)" text-anchor="middle">(Thu)</text>
<text class="t" transform="translate(1198.8,1871) rotate(-90)" text-anchor="middle">12/02 13h</text><text class="t" transform="translate(1232.8,1871) rotate(-90)" text-anchor="middle">(Thu)</text>
<text class="t" transform="translate(1287.4,1871) rotate(-90)" text-anchor="middle">13/02 01h</text><text class="t" transform="translate(1321.4,1871) rotate(-90)" text-anchor="middle">(Fri)</text>
<text class="t" transform="translate(1375.9,1871) rotate(-90)" text-anchor="middle">13/02 13h</text><text class="t" transform="translate(1409.9,1871) rotate(-90)" text-anchor="middle">(Fri)</text>
</g>
</svg>
</body></html>
